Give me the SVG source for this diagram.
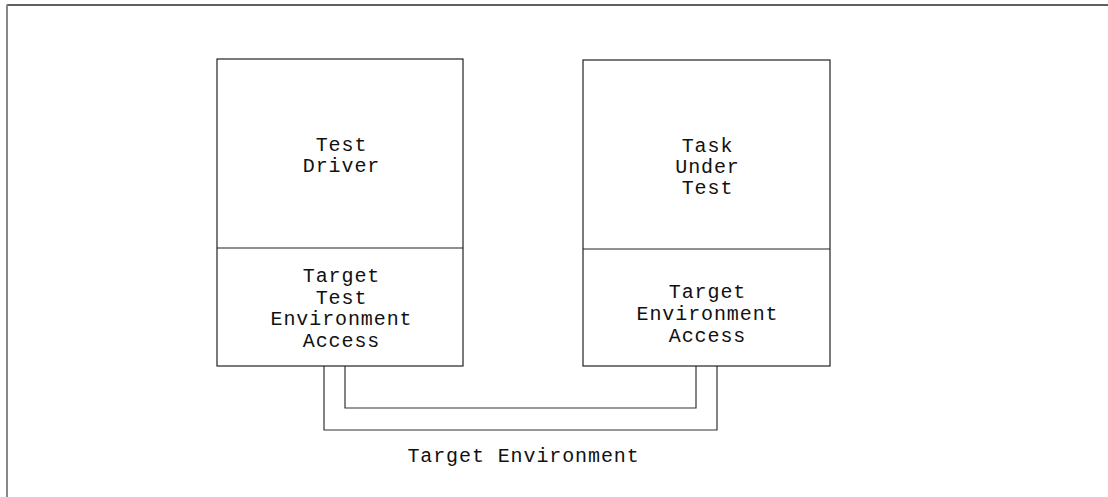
<svg xmlns="http://www.w3.org/2000/svg" width="1108" height="497" viewBox="0 0 1108 497">
<style>
.box{fill:#fff;stroke:#222;stroke-width:1.2}
.div{stroke:#222;stroke-width:1.2}
.lbl{font-family:"Liberation Mono","Courier New",monospace;font-size:20px;letter-spacing:0.9px;fill:#111;text-anchor:middle}
.conn{fill:none;stroke:#333;stroke-width:1.2}
</style>
<rect width="1108" height="497" fill="#fff"/>
<g id="frame">
<line x1="7" y1="5" x2="1108" y2="5" stroke="#2a2a2a" stroke-width="1.5"/>
<line x1="7" y1="4.5" x2="7" y2="497" stroke="#888" stroke-width="2"/>
</g>
<g id="connectors">
<polyline class="conn" points="345,366 345,408 696,408 696,366"/>
<polyline class="conn" points="324,366 324,430 717,430 717,366"/>
</g>
<g id="test-driver">
<rect class="box" x="217" y="59" width="246" height="307"/>
<line class="div" x1="217" y1="248" x2="463" y2="248"/>
<text class="lbl" x="341.5" y="151">Test</text>
<text class="lbl" x="341.5" y="172">Driver</text>
<text class="lbl" x="341.5" y="282">Target</text>
<text class="lbl" x="341.5" y="303.5">Test</text>
<text class="lbl" x="341.5" y="325">Environment</text>
<text class="lbl" x="341.5" y="346.5">Access</text>
</g>
<g id="task-under-test">
<rect class="box" x="583" y="60" width="247" height="306"/>
<line class="div" x1="583" y1="249" x2="830" y2="249"/>
<text class="lbl" x="707.5" y="152">Task</text>
<text class="lbl" x="707.5" y="173">Under</text>
<text class="lbl" x="707.5" y="194">Test</text>
<text class="lbl" x="707.5" y="298">Target</text>
<text class="lbl" x="707.5" y="320">Environment</text>
<text class="lbl" x="707.5" y="341.5">Access</text>
</g>
<g id="target-environment">
<text class="lbl" x="523.5" y="462">Target Environment</text>
</g>
</svg>
